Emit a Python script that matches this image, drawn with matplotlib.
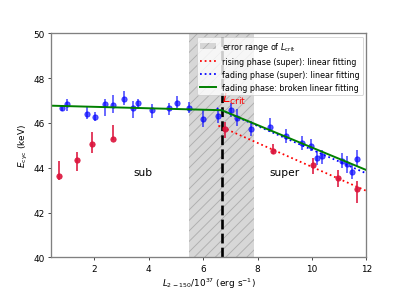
import numpy as np
import matplotlib
matplotlib.use('Agg')
import matplotlib.pyplot as plt

# fading phase points (blue)
fade_x = [0.82, 0.99, 1.74, 2.01, 2.38, 2.69, 3.08, 3.42, 3.61, 4.11, 4.75, 5.04, 5.47,
          6.01, 6.56, 7.02, 7.25, 7.75, 8.47, 9.05, 9.62, 9.97, 10.18, 10.37,
          11.11, 11.29, 11.46, 11.67]
fade_y = [46.67, 46.84, 46.40, 46.25, 46.83, 46.79, 47.07, 46.68, 46.87, 46.58, 46.65, 46.91, 46.65,
          46.19, 46.30, 46.58, 46.21, 45.72, 45.84, 45.40, 45.09, 44.98, 44.42, 44.51,
          44.29, 44.18, 43.82, 44.40]
fade_lo = [0.15, 0.3, 0.2, 0.15, 0.5, 0.35, 0.25, 0.45, 0.25, 0.35, 0.3, 0.25, 0.2,
           0.35, 0.3, 0.3, 0.35, 0.3, 0.25, 0.3, 0.3, 0.25, 0.3, 0.35,
           0.3, 0.4, 0.3, 0.3]
fade_hi = [0.15, 0.25, 0.35, 0.25, 0.25, 0.45, 0.35, 0.3, 0.2, 0.25, 0.25, 0.3, 0.3,
           0.4, 0.3, 0.3, 0.4, 0.35, 0.4, 0.35, 0.35, 0.3, 0.35, 0.3,
           0.35, 0.35, 0.3, 0.4]

# rising phase points (red)
rise_x = [0.70, 1.36, 1.90, 2.70, 6.81, 8.56, 10.03, 10.97, 11.66]
rise_y = [43.64, 44.34, 45.04, 45.27, 45.75, 44.75, 44.13, 43.53, 43.04]
rise_lo = [0.2, 0.5, 0.4, 0.05, 0.4, 0.15, 0.4, 0.4, 0.6]
rise_hi = [0.65, 0.35, 0.55, 0.65, 0.3, 0.3, 0.3, 0.35, 0.35]

L_crit = 6.68
L_crit_lo, L_crit_hi = 5.49, 7.86

# broken linear fit (green)
broken_x = [0.48, L_crit, 12.0]
broken_y = [46.77, 46.57, 43.90]
# linear fits in super-critical regime
rise_fit_x = [6.56, 12.0]
rise_fit_y = [45.88, 42.97]
fade_fit_x = [6.50, 12.0]
fade_fit_y = [46.66, 43.75]

fig = plt.figure(figsize=(6.4, 4.575), dpi=63.6)
ax = fig.add_subplot(111)
fig.subplots_adjust(left=0.125, right=0.9, bottom=0.112, top=0.882)

ax.axvspan(L_crit_lo, L_crit_hi, facecolor='lightgray', edgecolor='darkgray',
           hatch='//', linewidth=0, alpha=0.9, label=r'error range of $L_{\rm crit}$', zorder=0)
ax.axvline(L_crit, color='k', ls='--', lw=3, zorder=1)

ax.errorbar(rise_x, rise_y, yerr=[rise_lo, rise_hi], fmt='o', color='crimson',
            ecolor='crimson', elinewidth=2, ms=6, alpha=0.9, zorder=3)
ax.errorbar(fade_x, fade_y, yerr=[fade_lo, fade_hi], fmt='o', color='blue',
            ecolor='blue', elinewidth=2, ms=6, alpha=0.65, zorder=3)

ax.plot(rise_fit_x, rise_fit_y, ':', color='red', lw=2,
        label='rising phase (super): linear fitting', zorder=2)
ax.plot(fade_fit_x, fade_fit_y, ':', color='blue', lw=2,
        label='fading phase (super): linear fitting', zorder=2)
ax.plot(broken_x, broken_y, '-', color='green', lw=2.2,
        label='fading phase: broken linear fitting', zorder=4)

ax.text(L_crit, 46.95, r'$L_{\rm crit}$', color='red', fontsize=15)
ax.text(3.8, 43.8, 'sub', fontsize=12, ha='center', va='center')
ax.text(8.98, 43.8, 'super', fontsize=12, ha='center', va='center')

ax.set_xlim(0.4, 12)
ax.set_ylim(40, 50)
ax.set_xticks([2, 4, 6, 8, 10, 12])
ax.set_yticks([40, 42, 44, 46, 48, 50])
ax.set_xlabel(r'$L_{2-150}/10^{37}$ (erg s$^{-1}$)')
ax.set_ylabel(r'$E_{\rm cyc}$ (keV)')
for s in ax.spines.values():
    s.set_color('gray')
    s.set_linewidth(1.5)
ax.legend(loc='upper right', fontsize=9, borderaxespad=0.4)

fig.savefig('out.png', dpi=63.6)
